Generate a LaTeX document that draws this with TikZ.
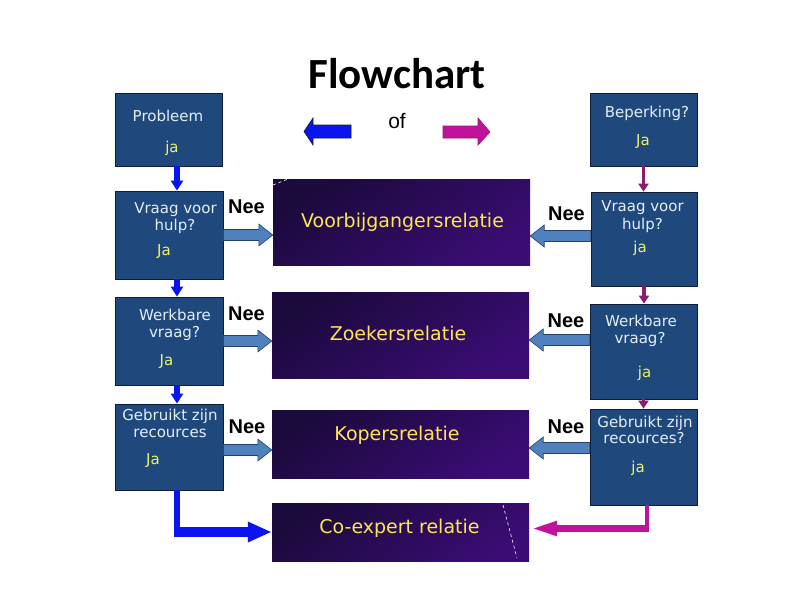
\documentclass[tikz,border=0pt]{standalone}
\usepackage{fontspec}
\setmainfont{DejaVu Sans}
\newfontfamily\titlefont{Carlito}
\newfontfamily\arialfont{Liberation Sans}
\usetikzlibrary{calc,arrows.meta}

\definecolor{boxblue}{HTML}{1F497D}
\definecolor{boxline}{HTML}{0E1E38}
\definecolor{boxtext}{HTML}{E4EEF8}
\definecolor{jayellow}{HTML}{EEF26A}
\definecolor{reldark}{HTML}{1B0A3C}
\definecolor{rellight}{HTML}{3A0C74}
\definecolor{reltext}{HTML}{FFE650}
\definecolor{neefill}{HTML}{4F81BD}
\definecolor{neeline}{HTML}{263F6A}
\definecolor{arrblue}{HTML}{0A14F0}
\definecolor{arrmagenta}{HTML}{8C1C70}
\definecolor{pinkfill}{HTML}{C0129C}

\tikzset{
  qbox/.style={draw=boxline, fill=boxblue, line width=0.8pt, inner sep=0pt, minimum width=107pt},
  relbox/.style={inner sep=0pt, minimum width=257pt, top color=reldark, bottom color=rellight, shading angle=35},
  qtxt/.style={text=boxtext, font=\fontsize{15}{17}\selectfont, anchor=base, inner sep=0pt},
  jatxt/.style={text=jayellow, font=\fontsize{15}{17}\selectfont, anchor=base, inner sep=0pt},
  reltxt/.style={text=reltext, font=\fontsize{19}{22}\selectfont, anchor=base, inner sep=0pt},
  neetxt/.style={font=\arialfont\fontsize{20}{24}\bfseries\selectfont, anchor=base, inner sep=0pt},
  neearr/.style={fill=neefill, draw=neeline, line width=0.6pt,
    to path={let \p1=(\tikztostart), \p2=(\tikztotarget),
      \n1={ifthenelse(\x2>\x1,1,-1)} in
      (\x1,{\y1+5.5pt}) -- ({\x2-(\n1)*14pt},{\y1+5.5pt}) -- ({\x2-(\n1)*14pt},{\y1+11pt})
      -- (\x2,\y1) -- ({\x2-(\n1)*14pt},{\y1-11pt}) -- ({\x2-(\n1)*14pt},{\y1-5.5pt})
      -- (\x1,{\y1-5.5pt}) -- cycle}},
  bluedown/.style={draw=arrblue, line width=5.5pt, -{Triangle[length=10pt,width=12pt]}},
  pinkdown/.style={draw=arrmagenta, line width=3.5pt, -{Triangle[length=8pt,width=10pt]}},
}

\begin{document}
\begin{tikzpicture}[x=1pt,y=-1pt]
\useasboundingbox (0,0) rectangle (794,595);
{\fontsize{15}{17}\selectfont

% Drawing title
\node[anchor=base, inner sep=0pt, font=\titlefont\fontsize{43}{48}\bfseries\selectfont] (title) at (397,88) {Flowchart};%

% Drawing legend
\fill[arrblue, draw=boxline, line width=0.6pt] (351,125) -- (313,125) -- (313,118) -- (304,131.5) -- (313,145) -- (313,138) -- (351,138) -- cycle;%
\fill[pinkfill, draw=arrmagenta, line width=0.6pt] (443,126) -- (478,126) -- (478,118) -- (490,132) -- (478,145) -- (478,138) -- (443,138) -- cycle;%
\node[anchor=base, inner sep=0pt, font=\arialfont\fontsize{21}{24}\selectfont] (of) at (397,128) {of};%

% Drawing left column
\node[qbox, minimum height=73pt] (prob) at (168.5,129.5) {};%
\node[qbox, minimum width=108pt, minimum height=88pt] (vl) at (169,235) {};%
\node[qbox, minimum width=108pt, minimum height=88pt] (wl) at (169,341) {};%
\node[qbox, minimum width=108pt, minimum height=86pt] (gl) at (169,447) {};%

% Drawing right column
\node[qbox, minimum height=73pt] (bep) at (643.5,129.5) {};%
\node[qbox, minimum width=106pt, minimum height=94pt] (vr) at (644,239) {};%
\node[qbox, minimum height=95pt] (wr) at (643.5,351.5) {};%
\node[qbox, minimum height=96pt] (gr) at (643.5,457) {};%

% Drawing relation boxes
\node[relbox, minimum height=86pt] (voorb) at (401.5,222) {};%
\node[relbox, minimum height=86pt] (zoek) at (400.5,335) {};%
\node[relbox, minimum height=68pt] (koper) at (400.5,444) {};%
\node[relbox, minimum height=58pt] (coexp) at (400.5,532) {};%
\draw[white, dashed, line width=0.6pt] (273,185) -- (288,179);%
\draw[white, dashed, line width=0.6pt] (503,505) -- (517,558);%

% Marking relation texts
\node[reltxt] (t-voorb) at (402.5,227) {Voorbijgangersrelatie};%
\node[reltxt] (t-zoek) at (398,340) {Zoekersrelatie};%
\node[reltxt] (t-koper) at (397,440) {Kopersrelatie};%
\node[reltxt] (t-coexp) at (399.5,533) {Co-expert relatie};%

% Marking left texts
\node[qtxt] (t-prob) at (168,121) {Probleem};%
\node[jatxt] (ja-prob) at (172,152) {ja};%
\node[qtxt] (t-vl1) at (175.5,213) {Vraag voor};%
\node[qtxt] (t-vl2) at (175,230) {hulp?};%
\node[jatxt] (ja-vl) at (164,255) {Ja};%
\node[qtxt] (t-wl1) at (175,320) {Werkbare};%
\node[qtxt] (t-wl2) at (174.5,337) {vraag?};%
\node[jatxt] (ja-wl) at (166.5,365) {Ja};%
\node[qtxt] (t-gl1) at (170,420) {Gebruikt zijn};%
\node[qtxt] (t-gl2) at (170,437) {recources};%
\node[jatxt] (ja-gl) at (153,464) {Ja};%

% Marking right texts
\node[qtxt] (t-bep) at (647,117) {Beperking?};%
\node[jatxt] (ja-bep) at (643,145) {Ja};%
\node[qtxt] (t-vr1) at (642.5,211) {Vraag voor};%
\node[qtxt] (t-vr2) at (642.5,229) {hulp?};%
\node[jatxt] (ja-vr) at (640,252) {ja};%
\node[qtxt] (t-wr1) at (641,326) {Werkbare};%
\node[qtxt] (t-wr2) at (640,343) {vraag?};%
\node[jatxt] (ja-wr) at (644.5,377) {ja};%
\node[qtxt] (t-gr1) at (645,427) {Gebruikt zijn};%
\node[qtxt] (t-gr2) at (644,443) {recources?};%
\node[jatxt] (ja-gr) at (638,472) {ja};%

% Drawing ja arrows left
\coordinate (pl-down) at ([xshift=8.5pt]prob.south);%
\coordinate (vl-down) at ([xshift=8pt]vl.south);%
\coordinate (wl-down) at ([xshift=8pt]wl.south);%
\draw[bluedown] (pl-down) -- (pl-down |- vl.north);%
\draw[bluedown] (vl-down) -- (vl-down |- wl.north);%
\draw[bluedown] (wl-down) -- (wl-down |- gl.north);%

% Drawing ja arrows right
\draw[pinkdown] (bep.south) -- (bep.south |- vr.north);%
\draw[pinkdown] (vr.south) -- (vr.south |- wr.north);%
\draw[pinkdown] (wr.south) -- (wr.south |- gr.north);%

% Drawing Nee arrows
\coordinate (gl-nee) at ([yshift=-3pt]gl.east);%
\coordinate (vr-nee) at ([yshift=3pt]vr.west);%
\coordinate (wr-nee) at ([yshift=11.5pt]wr.west);%
\coordinate (gr-nee) at ([yshift=9pt]gr.west);%
\draw[neearr] (vl.east) to (vl.east -| voorb.west);%
\draw[neearr] (wl.east) to (wl.east -| zoek.west);%
\draw[neearr] (gl-nee) to (gl-nee -| koper.west);%
\draw[neearr] (vr-nee) to (vr-nee -| voorb.east);%
\draw[neearr] (wr-nee) to (wr-nee -| zoek.east);%
\draw[neearr] (gr-nee) to (gr-nee -| koper.east);%

% Marking Nee
\node[neetxt] (nee-vl) at (246.5,213) {Nee};%
\node[neetxt] (nee-wl) at (246.5,320) {Nee};%
\node[neetxt] (nee-gl) at (247,433) {Nee};%
\node[neetxt] (nee-vr) at (566.5,220) {Nee};%
\node[neetxt] (nee-wr) at (566,327) {Nee};%
\node[neetxt] (nee-gr) at (566,433) {Nee};%

% Drawing last ja arrows
\coordinate (gl-down) at ([xshift=8pt]gl.south);%
\coordinate (gl-turn) at (gl-down |- coexp.west);%
\draw[arrblue, line width=5.5pt] (gl-down) -- ([yshift=-5pt]gl-turn);%
\draw[arrblue, line width=10pt, -{Triangle[length=24pt,width=19pt]}] ([xshift=-2.75pt]gl-turn) -- (coexp.west);%
\coordinate (gr-down) at ([xshift=3pt]gr.south);%
\coordinate (gr-turn) at ($(gr-down |- coexp.east)+(0,-3.5)$);%
\draw[pinkfill, line width=4pt] (gr-down) -- ([yshift=-3.5pt]gr-turn);%
\draw[pinkfill, line width=7pt, -{Triangle[length=28pt,width=13pt]}] ([xshift=2pt]gr-turn) -- (gr-turn -| coexp.east);%
}
\end{tikzpicture}
\end{document}
